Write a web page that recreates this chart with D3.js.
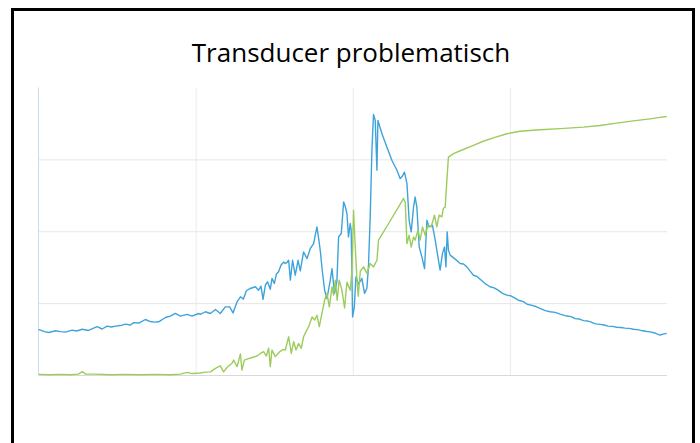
<!DOCTYPE html>
<html>
<head>
<meta charset="utf-8">
<script src="https://cdn.jsdelivr.net/npm/d3@7"></script>
<style>
  html, body { margin: 0; padding: 0; background: #fff; }
  svg { display: block; }
</style>
</head>
<body>
<svg id="chart" width="700" height="443"></svg>
<script>
// ---- data ----
const title = "Transducer problematisch";
const xTickValues = [100, 200, 300];
const yTickValues = [25, 50, 75];
const xDomain = [0, 400];
const yDomain = [0, 100];

const blueX = [0,3.8,6.6,10.8,14.0,17.2,21.4,24.2,27.8,31.8,37.3,40.5,43.7,46.4,49.0,52.1,55.3,58.5,60.6,64.2,68.0,71.2,73.8,76.5,80.8,83.9,87.1,90.3,94.6,97.7,101.9,103.0,106.2,109.4,112.6,115.7,118.9,121.7,123.8,126.4,128.5,130.4,132.3,134.8,138.0,140.1,141.6,142.9,144.4,145.8,147.5,148.6,150.1,151.4,152.8,154.3,156.0,157.1,158.2,159.2,160.3,161.7,163.4,165.2,166.6,168.7,170.9,173.0,175.1,177.2,178.3,179.3,180.8,182.1,183.6,185.7,186.8,188.4,189.9,191.0,192.7,194.2,195.2,196.3,197.3,198.4,199.0,199.9,201.0,202.0,203.7,205.8,207.5,209.0,210.0,211.1,212.2,213.2,214.3,215.4,216.0,218.6,221.7,224.9,228.1,230.2,231.5,232.9,234.5,235.9,237.2,238.7,239.7,240.8,242.3,244.0,245.7,247.2,248.6,250.7,252.5,254.2,255.6,257.1,258.4,259.3,260.1,260.9,262.0,265.2,268.4,270.5,272.6,274.6,276.8,279.0,281.1,284.0,287.4,290.0,292.5,295.3,298.1,300.6,303.3,306.0,308.6,311.0,313.5,316.2,319.2,322.5,325.6,328.8,332.0,336.2,339.0,341.5,344.0,346.8,349.3,351.7,354.5,357.4,360.0,362.5,365.3,368.0,370.6,373.3,376.0,378.6,381.0,383.5,386.4,389.2,392.4,395.6,397.5,399.8];
const blueY = [15.9,15.1,14.8,15.4,15.1,14.9,15.6,15.3,15.9,15.5,16.8,16.0,17.0,16.7,17.0,17.2,17.7,17.4,18.2,18.1,19.3,18.6,18.4,18.5,20.0,20.5,21.4,20.5,21.1,20.5,21.4,21.1,22.0,21.4,22.8,21.4,23.7,23.7,21.6,25.5,27.2,26.4,29.3,30.1,30.7,29.5,30.9,26.3,31.3,32.4,29.8,33.6,31.8,35.1,35.9,38.2,39.3,38.8,39.2,39.9,33.0,39.9,34.7,39.9,36.2,42.8,40.5,44.0,45.7,51.5,47.5,43.4,35.3,29.5,26.6,33.0,37.0,28.4,32.4,48.0,49.2,60.2,58.7,56.1,48.0,52.7,50.3,20.2,23.7,34.1,31.6,33.6,28.4,30.2,37.6,55.0,78.1,90.6,88.5,71.2,88.5,83.9,79.3,74.7,71.2,68.3,69.1,70.6,66.6,53.8,49.8,58.4,61.9,58.4,44.5,41.1,37.0,53.8,51.5,52.1,46.9,41.1,36.5,42.3,44.5,37.6,49.8,43.4,41.7,40.3,38.8,38.6,37.6,36.2,34.7,34.3,33.3,31.9,30.7,30.3,29.5,28.4,27.8,27.5,26.7,25.9,25.5,24.6,24.3,23.9,23.2,22.4,22.0,21.8,21.2,20.5,20.3,19.6,19.5,18.9,18.8,18.4,17.8,17.6,17.4,17.0,16.9,16.6,16.5,16.3,16.2,15.9,15.8,15.5,15.2,15.0,14.6,13.9,14.2,14.5];

const greenX = [0,7.6,14.0,20.4,25.4,27.8,29.9,36.2,45.8,55.3,64.9,74.4,83.9,90.3,94.8,97.9,103.0,106.2,109.4,112.6,115.7,117.8,120.2,123.2,124.2,126.4,128.5,129.5,131.0,132.7,135.9,139.1,141.2,143.3,145.0,146.5,147.5,148.6,150.7,153.5,156.0,157.1,159.2,160.9,162.4,163.9,165.5,167.2,168.7,170.2,171.9,174.1,175.7,177.2,178.7,180.4,182.1,183.6,185.1,186.8,187.8,188.9,190.1,191.4,193.1,194.8,196.3,198.4,199.5,200.5,201.6,202.7,203.5,204.8,206.9,209.0,211.1,213.2,215.4,216.4,222.8,229.1,232.3,233.4,234.5,235.9,237.2,238.7,239.7,241.5,242.9,244.4,246.1,247.8,249.9,252.0,253.5,255.0,256.7,257.7,258.8,259.9,260.9,264.1,268.4,276.8,283.0,289.5,298.1,306.5,319.2,332.0,346.8,357.4,368.0,378.6,389.2,395.6,399.8];
const greenY = [0.2,0.1,0.2,0.1,0.3,1.2,0.3,0.3,0.1,0.2,0.1,0.2,0.1,0.3,0.9,0.5,0.7,1.0,1.1,2.3,3.2,1.1,2.8,4.1,5.2,2.9,7.3,1.7,5.2,5.5,6.1,6.6,7.5,8.1,6.6,9.3,2.9,8.7,6.4,8.1,8.9,8.7,13.3,7.5,11.6,8.7,11.0,9.3,13.3,15.0,16.8,20.2,19.1,20.8,16.8,21.4,26.0,28.4,23.7,30.7,27.8,33.0,26.0,33.0,29.5,23.3,32.3,29.5,36.5,57.3,44.5,33.0,27.4,36.1,37.6,35.3,38.8,37.6,39.9,46.9,52.7,58.4,61.4,60.1,45.7,48.6,44.5,48.0,46.9,50.3,46.9,51.5,48.6,52.1,51.5,55.6,51.5,55.6,55.0,58.0,58.4,67.7,75.8,77.0,78.0,79.9,81.3,82.5,83.9,84.8,85.3,85.7,86.2,86.8,87.6,88.4,89.1,89.6,89.9];

const series = [
  { name: "blue",  xs: blueX,  ys: blueY,  color: "#3fa3db" },
  { name: "green", xs: greenX, ys: greenY, color: "#9ccc5e" }
];

// ---- layout ----
const svg = d3.select("#chart");
const plot = { left: 38.5, right: 667, top: 87.5, bottom: 375 };

const x = d3.scaleLinear().domain(xDomain).range([plot.left, plot.right]);
const y = d3.scaleLinear().domain(yDomain).range([plot.bottom, plot.top]);

// outer frame
svg.append("rect")
  .attr("x", 12.5).attr("y", 9.5)
  .attr("width", 681).attr("height", 460)
  .attr("fill", "none").attr("stroke", "#000").attr("stroke-width", 3);

// title
svg.append("text")
  .attr("x", 351).attr("y", 62)
  .attr("text-anchor", "middle")
  .attr("font-family", "'Open Sans', 'Noto Sans', sans-serif")
  .attr("font-size", 26)
  .attr("fill", "#000")
  .text(title);

// gridlines
const gx = svg.append("g")
  .attr("transform", `translate(0,${plot.bottom})`)
  .call(d3.axisBottom(x).tickValues(xTickValues).tickSize(-(plot.bottom - plot.top)).tickFormat(""));
gx.select(".domain").remove();
gx.selectAll(".tick line").attr("stroke", "#ebebeb").attr("stroke-width", 1);

const gy = svg.append("g")
  .attr("transform", `translate(${plot.left},0)`)
  .call(d3.axisLeft(y).tickValues(yTickValues).tickSize(-(plot.right - plot.left)).tickFormat(""));
gy.select(".domain").remove();
gy.selectAll(".tick line").attr("stroke", "#e6e6e6").attr("stroke-width", 1);

// axis lines
svg.append("line")
  .attr("x1", x(xDomain[0])).attr("x2", x(xDomain[0]))
  .attr("y1", y(yDomain[0])).attr("y2", y(yDomain[1]))
  .attr("stroke", "#c4def0").attr("stroke-width", 1);
svg.append("line")
  .attr("x1", x(xDomain[0])).attr("x2", x(xDomain[1]))
  .attr("y1", y(yDomain[0]) + 0.5).attr("y2", y(yDomain[0]) + 0.5)
  .attr("stroke", "#d9d9d9").attr("stroke-width", 1);

// lines
const line = d3.line().x(d => x(d[0])).y(d => y(d[1]));
series.forEach(s => {
  const pts = s.xs.map((v, i) => [v, s.ys[i]]);
  svg.append("path")
    .datum(pts)
    .attr("fill", "none")
    .attr("stroke", s.color)
    .attr("stroke-width", 1.4)
    .attr("stroke-linejoin", "round")
    .attr("d", line);
});
</script>
</body>
</html>
